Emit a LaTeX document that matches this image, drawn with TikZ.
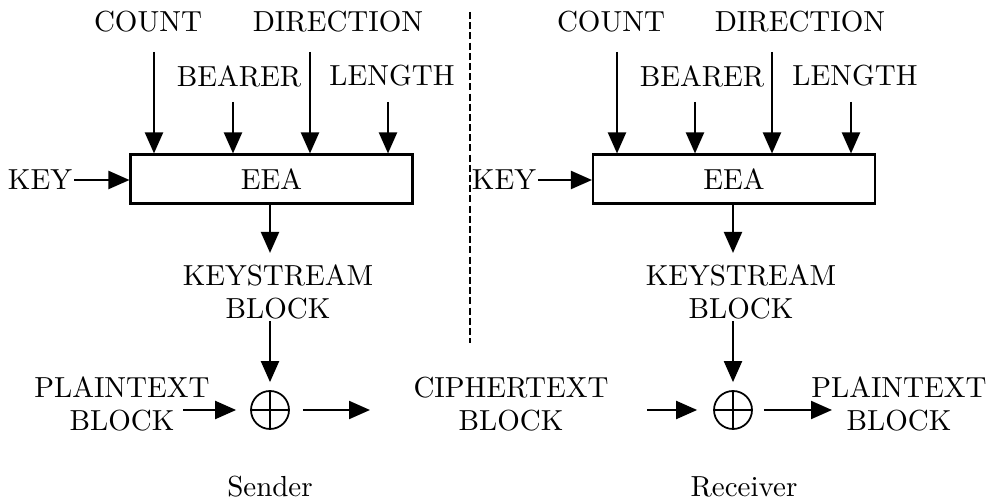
\documentclass[tikz,border=0pt]{standalone}
\usetikzlibrary{arrows.meta}
\font\lmtext="[lmroman10-regular]:mapping=tex-text" at 16.5pt
\newcommand\lmlabel{\lmtext\baselineskip=18.5pt\relax}
\begin{document}
\begin{tikzpicture}[x=0.02cm, y=-0.02cm,
    label/.style ={font=\lmlabel, inner sep=1pt, align=center},
    cipher/.style ={draw, line width=1.2pt, minimum width=5.64cm, minimum height=0.98cm,
                    inner sep=0pt, font=\lmlabel},
    xor/.style ={circle, draw, line width=1pt, minimum size=0.76cm, inner sep=0pt,
                 path picture={\draw[line width=0.9pt]
                   (path picture bounding box.north) -- (path picture bounding box.south)
                   (path picture bounding box.west) -- (path picture bounding box.east);}},
    arr/.style ={line width=1.2pt, -{Triangle[length=0.42cm, width=0.36cm]}},
    divider/.style ={line width=0.9pt, dash pattern=on 4pt off 1.8pt}]
   \useasboundingbox (0,0) rectangle (994,502);
   % sender
   \node[label] (countL) at (148,22)  {COUNT};
   \node[label] (dirL)   at (338,22)  {DIRECTION};
   \node[label] (bearL)  at (239,76)  {BEARER};
   \node[label] (lenL)   at (392,76)  {LENGTH};
   \node[cipher] (eeaL)  at (271.5,179) {EEA};
   \node[label] (keyL)   at (40,180)  {KEY};
   \node[label] (ksL)    at (278,292) {KEYSTREAM\\BLOCK};
   \node[xor] (xorL)     at (270,410) {};
   \node[label] (ptL)    at (122,404) {PLAINTEXT\\BLOCK};
   \node[label] (sender) at (270,487) {Sender};
   % channel
   \node[label] (ct)     at (511,404) {CIPHERTEXT\\BLOCK};
   % receiver
   \node[label] (countR) at (611,22)  {COUNT};
   \node[label] (dirR)   at (800,22)  {DIRECTION};
   \node[label] (bearR)  at (702,76)  {BEARER};
   \node[label] (lenR)   at (855,76)  {LENGTH};
   \node[cipher] (eeaR)  at (734,179) {EEA};
   \node[label] (keyR)   at (504,180) {KEY};
   \node[label] (ksR)    at (741,292) {KEYSTREAM\\BLOCK};
   \node[xor] (xorR)     at (733,410) {};
   \node[label] (ptR)    at (899,404) {PLAINTEXT\\BLOCK};
   \node[label] (receiver) at (744,487) {Receiver};
   % arrow tails
   \coordinate (inCL) at (154,52);
   \coordinate (inBL) at (233,102);
   \coordinate (inDL) at (310,52);
   \coordinate (inLL) at (388,102);
   \coordinate (inCR) at (617,52);
   \coordinate (inBR) at (695,102);
   \coordinate (inDR) at (772,52);
   \coordinate (inLR) at (851,102);
   \coordinate (ptOut) at (183,410);
   \coordinate (ctIn)  at (370,410);
   \coordinate (ctOut) at (647,410);
   \coordinate (ptIn)  at (832,410);
   \coordinate (top)    at (470,12);
   \coordinate (bottom) at (470,343);
   \draw[arr] (inCL) to (inCL |- eeaL.north);
   \draw[arr] (inBL) to (inBL |- eeaL.north);
   \draw[arr] (inDL) to (inDL |- eeaL.north);
   \draw[arr] (inLL) to (inLL |- eeaL.north);
   \draw[arr] (keyL.east) to (keyL.east -| eeaL.west);
   \draw[arr, shorten >=0.2cm] (xorL |- eeaL.south) to (xorL |- ksL.north);
   \draw[arr, shorten >=0.16cm] (xorL |- ksL.south) to (xorL.north);
   \draw[arr, shorten >=0.28cm] (ptOut) to (xorL.west);
   \draw[arr, shorten <=0.26cm] (xorL.east) to (ctIn);
   \draw[arr] (inCR) to (inCR |- eeaR.north);
   \draw[arr] (inBR) to (inBR |- eeaR.north);
   \draw[arr] (inDR) to (inDR |- eeaR.north);
   \draw[arr] (inLR) to (inLR |- eeaR.north);
   \draw[arr] (keyR.east) to (keyR.east -| eeaR.west);
   \draw[arr, shorten >=0.2cm] (xorR |- eeaR.south) to (xorR |- ksR.north);
   \draw[arr, shorten >=0.16cm] (xorR |- ksR.south) to (xorR.north);
   \draw[arr, shorten >=0.32cm] (ctOut) to (xorR.west);
   \draw[arr, shorten <=0.22cm] (xorR.east) to (ptIn);
   \draw[divider] (top) to (bottom);
 \end{tikzpicture}
\end{document}
